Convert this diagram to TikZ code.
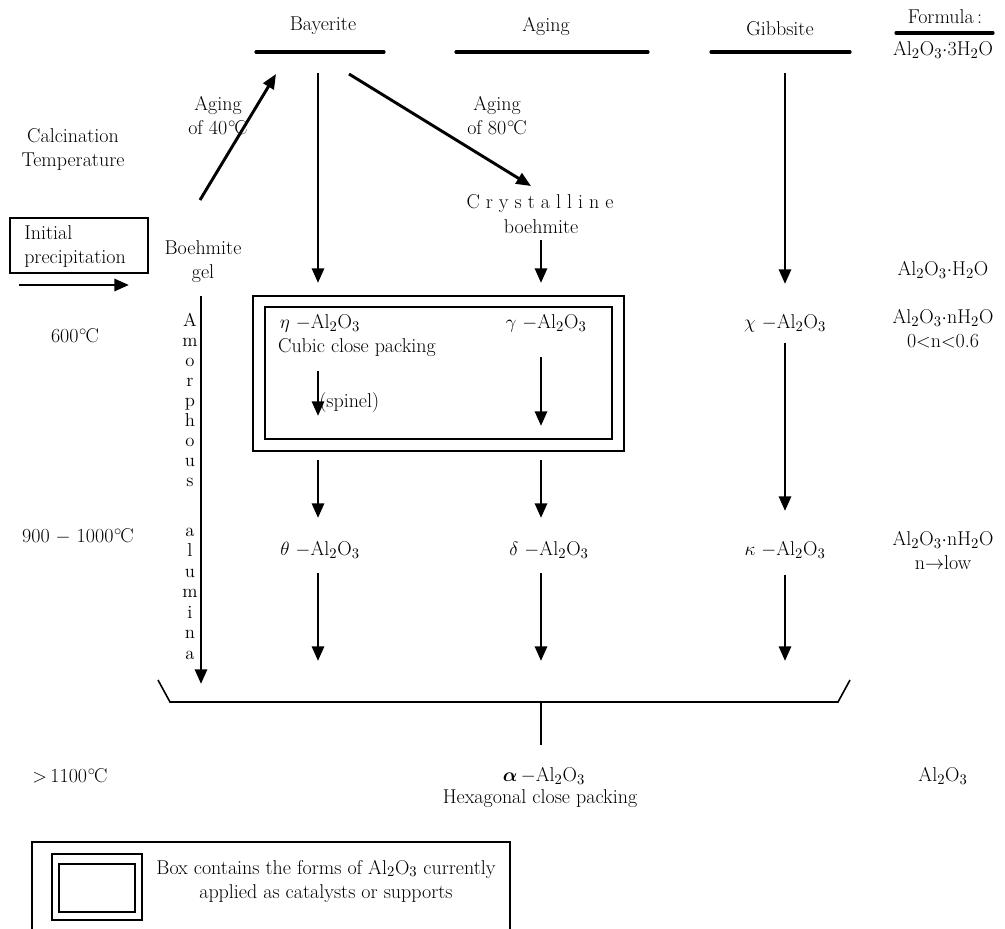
\documentclass[tikz,border=0pt]{standalone}
\usepackage{amsmath}
\usepackage{fontspec}
\usetikzlibrary{arrows.meta}
\newcommand\AlO{Al$_2$O$_3$}
\newcommand\HtO{H$_2$O}
\newcommand\degC{\kern0.5pt$^{\circ}$\kern-1.2pt C}
\begin{document}
\begin{tikzpicture}[x=0.75pt,y=-0.75pt,
  font=\fontsize{15}{18}\selectfont,
  lbl/.style={inner sep=0pt, align=center},
  arr/.style={line width=2.2pt, -{Triangle[length=11pt,width=9pt]}},
  hline/.style={line width=2.4pt, line cap=round},
  thinbox/.style={draw, line width=1.3pt},
  letter/.style={inner sep=0pt, font=\fontsize{14}{15}\selectfont}]
\useasboundingbox (0,0) rectangle (1005,928);

% header
\node[lbl] (bay) at (323,26) {Bayerite};
\node[lbl] (agi) at (546,26) {Aging};
\node[lbl] (gib) at (780,29) {Gibbsite};
\node[lbl] (form) at (945,17) {Formula\,:};
\node[lbl] (f1) at (943,50) {\AlO$\cdot$3\HtO};
\coordinate (bayL) at (256,52); \coordinate (bayR) at (384,52);
\coordinate (agiL) at (456,52); \coordinate (agiR) at (648,52);
\coordinate (gibL) at (711,52); \coordinate (gibR) at (850,52);
\coordinate (forL) at (896,33); \coordinate (forR) at (993,33);
\draw[hline] (bayL) -- (bayR);
\draw[hline] (agiL) -- (agiR);
\draw[hline] (gibL) -- (gibR);
\draw[hline] (forL) -- (forR);

% left column
\node[lbl] (calc) at (73,149) {Calcination\\Temperature};
\node[thinbox, minimum width=138*0.75pt, minimum height=55*0.75pt, inner sep=0pt] (init) at (79,245.5) {};
\node[lbl, align=left, anchor=west] (inittxt) at (24,247) {Initial\\precipitation};
\coordinate (ia1) at (19,285); \coordinate (ia2) at (129,285);
\draw[arr] (ia1) -- (ia2);
\node[lbl] (bgel) at (203,262) {Boehmite\\gel};
\node[lbl] (t600) at (75,336) {600\degC};
\node[lbl] (t900) at (78,536) {900 $-$ 1000\degC};
\node[lbl] (t1100) at (70,776) {$>$\,1100\degC};

% aging arrows
\coordinate (a40s) at (200,200); \coordinate (a40e) at (276,74);
\draw[arr] (a40s) -- (a40e);
\node[lbl] (lab40) at (218,116) {Aging\\of 40\degC};
\coordinate (a80s) at (349,74); \coordinate (a80e) at (531,186);
\draw[arr] (a80s) -- (a80e);
\node[lbl] (lab80) at (497,116) {Aging\\of 80\degC};
\node[lbl] (cryst) at (540,204) {C\kern4.5pt r\kern4.5pt y\kern4.5pt s\kern4.5pt t\kern4.5pt a\kern4.5pt l\kern4.5pt l\kern4.5pt i\kern4.5pt n\kern4.5pt e};
\node[lbl] (cboe) at (541,227) {boehmite};

% vertical arrows from top
\coordinate (b1) at (318,73); \coordinate (b2) at (318,283);
\draw[arr] (b1) -- (b2);
\coordinate (c1) at (541,240); \coordinate (c2) at (541,283);
\draw[arr] (c1) -- (c2);
\coordinate (g1) at (785,73); \coordinate (g2) at (785,284);
\draw[arr] (g1) -- (g2);

% amorphous alumina
\coordinate (am1) at (201,296); \coordinate (am2) at (201,684);
\draw[arr] (am1) -- (am2);
\foreach \ch [count=\i] in {A,m,o,r,p,h,o,u,s}
  \node[letter] (amL\i) at (190,{322+20*(\i-1)}) {\strut\ch};
\foreach \ch [count=\i] in {a,l,u,m,i,n,a}
  \node[letter] (alL\i) at (190,{532+20.5*(\i-1)}) {\strut\ch};

% double box
\node[draw, line width=1.5pt, minimum width=371*0.75pt, minimum height=155*0.75pt, inner sep=0pt] (obox) at (438.5,373.5) {};
\node[draw, line width=1.5pt, minimum width=347*0.75pt, minimum height=132*0.75pt, inner sep=0pt] (ibox) at (438.5,373) {};
\node[lbl] (eta) at (320,323) {$\eta$ $-$\AlO};
\node[lbl] (cubic) at (357,348) {Cubic close packing};
\coordinate (e1) at (318,371); \coordinate (e2) at (318,416);
\draw[arr] (e1) -- (e2);
\node[lbl, anchor=west] (spin) at (319,403) {(spinel)};
\node[lbl] (gam) at (546,323) {$\gamma$ $-$\AlO};
\coordinate (y1) at (541,357); \coordinate (y2) at (541,426);
\draw[arr] (y1) -- (y2);

\node[lbl] (chi) at (785,323) {$\chi$ $-$\AlO};
\coordinate (x1) at (785,343); \coordinate (x2) at (785,511);
\draw[arr] (x1) -- (x2);

% below box arrows
\coordinate (p1) at (318,460); \coordinate (p2) at (318,518);
\draw[arr] (p1) -- (p2);
\coordinate (q1) at (541,460); \coordinate (q2) at (541,518);
\draw[arr] (q1) -- (q2);

% theta delta kappa
\node[lbl] (the) at (320,550) {$\theta$ $-$\AlO};
\node[lbl] (del) at (549,550) {$\delta$ $-$\AlO};
\node[lbl] (kap) at (785,550) {$\kappa$ $-$\AlO};
\coordinate (t1) at (318,573); \coordinate (t2) at (318,661);
\draw[arr] (t1) -- (t2);
\coordinate (d1) at (541,573); \coordinate (d2) at (541,661);
\draw[arr] (d1) -- (d2);
\coordinate (k1) at (785,575); \coordinate (k2) at (785,661);
\draw[arr] (k1) -- (k2);

% bracket
\coordinate (br1) at (158,680); \coordinate (br2) at (170,702);
\coordinate (br3) at (838,702); \coordinate (br4) at (850,680);
\coordinate (st1) at (541,702); \coordinate (st2) at (541,745);
\draw[line width=1.2pt] (br1) -- (br2) -- (br3) -- (br4);
\draw[line width=1.2pt] (st1) -- (st2);

\node[lbl] (alpha) at (544,776) {$\boldsymbol{\alpha}$\,$-$\AlO};
\node[lbl] (hex) at (540,799) {Hexagonal close packing};

% right formulas
\node[lbl] (fH) at (943,270) {\AlO$\cdot$\HtO};
\node[lbl] (fn1a) at (943,318) {\AlO$\cdot$n\HtO};
\node[lbl] (fn1b) at (943,341) {0$<$n$<$0.6};
\node[lbl] (fn2a) at (943,540) {\AlO$\cdot$n\HtO};
\node[lbl] (fn2b) at (943,563) {n$\rightarrow$low};
\node[lbl] (fA) at (943,776) {\AlO};

% legend
\coordinate (lg1) at (32,935); \coordinate (lg2) at (32,842);
\coordinate (lg3) at (510,842); \coordinate (lg4) at (510,935);
\draw[line width=1.3pt] (lg1) -- (lg2) -- (lg3) -- (lg4);
\node[draw, line width=1.3pt, minimum width=90*0.75pt, minimum height=66*0.75pt, inner sep=0pt] (lo) at (97,887) {};
\node[draw, line width=1.3pt, minimum width=76*0.75pt, minimum height=48*0.75pt, inner sep=0pt] (li) at (97,888) {};
\node[lbl] (ltxt) at (326,881) {Box contains the forms of \AlO{} currently\\applied as catalysts or supports};
\end{tikzpicture}
\end{document}
